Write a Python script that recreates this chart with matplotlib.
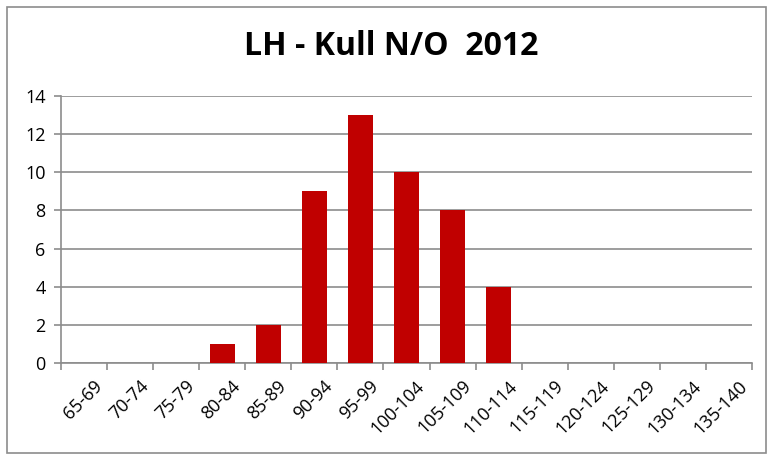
import matplotlib
matplotlib.use("Agg")
import matplotlib.pyplot as plt
from matplotlib.patches import Rectangle

# histogram classes and counts
categories = ["65-69", "70-74", "75-79", "80-84", "85-89", "90-94", "95-99",
              "100-104", "105-109", "110-114", "115-119", "120-124",
              "125-129", "130-134", "135-140"]
counts = [0, 0, 0, 1, 2, 9, 13, 10, 8, 4, 0, 0, 0, 0, 0]
yticks = [0, 2, 4, 6, 8, 10, 12, 14]

plt.rcParams["font.family"] = ["Open Sans", "DejaVu Sans"]

fig = plt.figure(figsize=(7.67, 4.55), dpi=100)
ax = fig.add_axes([0.0795, 0.2022, 0.901, 0.5868])

x = list(range(len(categories)))
ax.bar(x, counts, width=0.55, color="#C00000", zorder=3)

ax.set_xlim(-0.5, len(categories) - 0.5)
ax.set_ylim(0, 14)
ax.set_yticks(yticks)
ax.yaxis.grid(True, color="#8c8c8c", linewidth=1.2, zorder=0)
ax.set_axisbelow(True)

# ticks between categories, labels (invisible ticks) a bit right of centre
ax.set_xticks([i - 0.5 for i in range(len(categories) + 1)])
ax.set_xticklabels([])
ax.set_xticks([i + 0.2 for i in x], minor=True)
ax.set_xticklabels(categories, minor=True, rotation=45, ha="right",
                   rotation_mode="anchor", fontsize=13)
ax.tick_params(axis="x", which="minor", length=0, pad=10)
ax.tick_params(axis="x", which="major", length=5, color="#8c8c8c", width=1.2)
ax.tick_params(axis="y", length=5, color="#8c8c8c", width=1.2, labelsize=13, pad=6)

for side in ["top", "right"]:
    ax.spines[side].set_visible(False)
for side in ["left", "bottom"]:
    ax.spines[side].set_color("#8c8c8c")
    ax.spines[side].set_linewidth(1.2)

fig.text(0.51, 0.897, "LH - Kull N/O  2012", ha="center", va="center",
         fontsize=23, fontweight="bold")

fig.patches.append(Rectangle((0.009, 0.005), 0.99, 0.98, transform=fig.transFigure,
                             fill=False, edgecolor="#8c8c8c", linewidth=1.2))

fig.savefig("out.png", dpi=100)
